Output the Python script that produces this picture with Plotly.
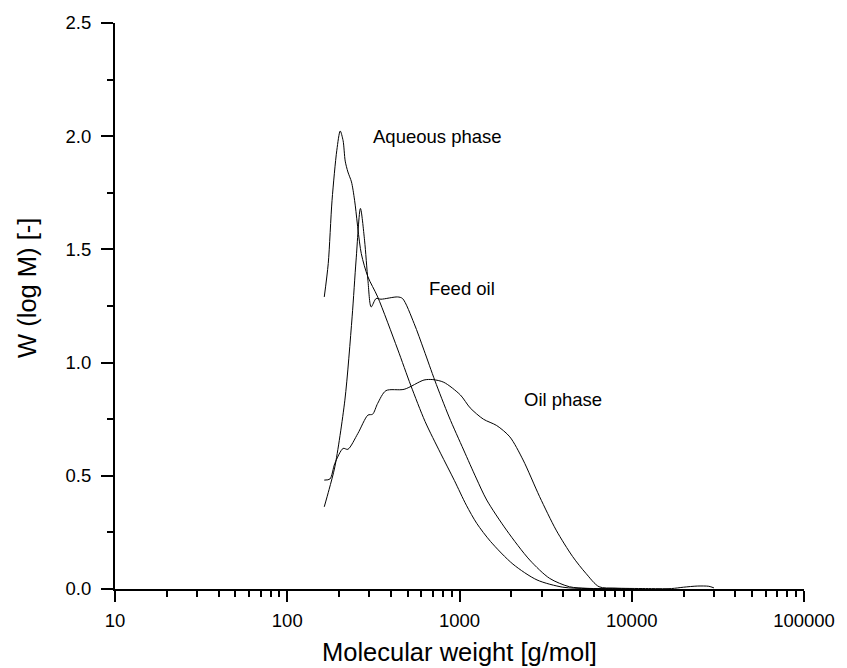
import plotly.graph_objects as go

# ---- data ----
aq_M = [164, 173, 182, 194, 203, 211, 217, 225, 236, 246, 269, 294, 335, 437, 521, 631, 776, 933,
        1096, 1259, 1514, 2042, 2818, 3981, 5500, 8000, 10000]
aq_W = [1.29, 1.438, 1.717, 1.938, 2.023, 1.98, 1.89, 1.842, 1.798, 1.717, 1.482, 1.379, 1.29, 1.06,
        0.90, 0.74, 0.60, 0.48, 0.37, 0.29, 0.21, 0.11, 0.04, 0.008, 0.002, 0.001, 0.0]

feed_M = [164, 175, 189, 216, 238, 251, 266, 281, 294, 307, 328, 350, 437, 467, 545, 622, 720, 870,
          1057, 1250, 1439, 1875, 2557, 3336, 4348, 5500, 8000, 10000]
feed_W = [0.363, 0.44, 0.54, 0.834, 1.202, 1.453, 1.681, 1.541, 1.364, 1.246, 1.283, 1.28, 1.29, 1.283,
          1.173, 1.055, 0.92, 0.76, 0.614, 0.49, 0.393, 0.26, 0.128, 0.047, 0.010, 0.003, 0.001, 0.0]

oil_M = [164, 177, 189, 211, 225, 257, 294, 313, 335, 374, 477, 622, 700, 811, 1012, 1153, 1377,
         1644, 1960, 2339, 2917, 3641, 4540, 5420, 6460, 8000, 12000, 17000, 20000, 24000, 28000, 30000]
oil_W = [0.481, 0.486, 0.555, 0.621, 0.617, 0.687, 0.768, 0.772, 0.820, 0.876, 0.882, 0.923, 0.925,
         0.913, 0.857, 0.800, 0.750, 0.722, 0.672, 0.570, 0.408, 0.260, 0.143, 0.069, 0.010,
         0.004, 0.002, 0.002, 0.008, 0.013, 0.012, 0.005]

labels = ["Aqueous phase", "Feed oil", "Oil phase"]
label_pos = [(2.487, 1.997), (2.813, 1.329), (3.365, 0.838)]  # (log10 M, W)

x_major = [10, 100, 1000, 10000, 100000]
x_minor = [m * d for d in [10, 100, 1000, 10000] for m in range(2, 10)]

FONT = "Liberation Sans, Arial, sans-serif"

fig = go.Figure()
for M, W in [(aq_M, aq_W), (feed_M, feed_W), (oil_M, oil_W)]:
    fig.add_trace(go.Scatter(x=M, y=W, mode="lines",
                             line=dict(color="black", width=1, shape="spline", smoothing=0.8),
                             showlegend=False, hoverinfo="skip"))

for txt, (lx, ly) in zip(labels, label_pos):
    fig.add_annotation(x=lx, y=ly, xref="x", yref="y", text=txt, showarrow=False,
                       xanchor="left", yanchor="middle",
                       font=dict(family=FONT, size=18.5, color="black"))

fig.add_annotation(x=0.5, y=-0.1107, xref="paper", yref="paper", text="Molecular weight [g/mol]",
                   showarrow=False, xanchor="center", yanchor="middle",
                   font=dict(family=FONT, size=25.5, color="black"))
fig.add_annotation(x=-0.128, y=0.5316, xref="paper", yref="paper", text="W (log M) [-]",
                   showarrow=False, xanchor="center", yanchor="middle", textangle=-90,
                   font=dict(family=FONT, size=25.5, color="black"))

fig.update_layout(
    width=847, height=668,
    margin=dict(l=115, r=37, t=23, b=79),
    paper_bgcolor="white", plot_bgcolor="white",
    font=dict(family=FONT, size=18.5, color="black"),
)
fig.update_xaxes(type="log", range=[1, 5], showgrid=False, zeroline=False,
                 showline=True, linecolor="black", linewidth=2,
                 ticks="outside", ticklen=11, tickwidth=2, tickcolor="black",
                 tickmode="array", tickvals=x_major, ticktext=[str(v) for v in x_major],
                 ticklabelstandoff=3,
                 minor=dict(ticks="outside", ticklen=6, tickwidth=1.5, tickcolor="black",
                            tickmode="array", tickvals=x_minor, showgrid=False),
                 tickfont=dict(size=18.5))
fig.update_yaxes(range=[0, 2.5], showgrid=False, zeroline=False,
                 showline=True, linecolor="black", linewidth=2,
                 ticks="outside", ticklen=12, tickwidth=2, tickcolor="black",
                 tickmode="linear", tick0=0, dtick=0.5, tickformat=".1f",
                 ticklabelstandoff=6,
                 minor=dict(ticks="outside", ticklen=6, tickwidth=1.5, tickcolor="black",
                            dtick=0.25, tick0=0, showgrid=False),
                 tickfont=dict(size=18.5))

fig.write_html("out.html")
